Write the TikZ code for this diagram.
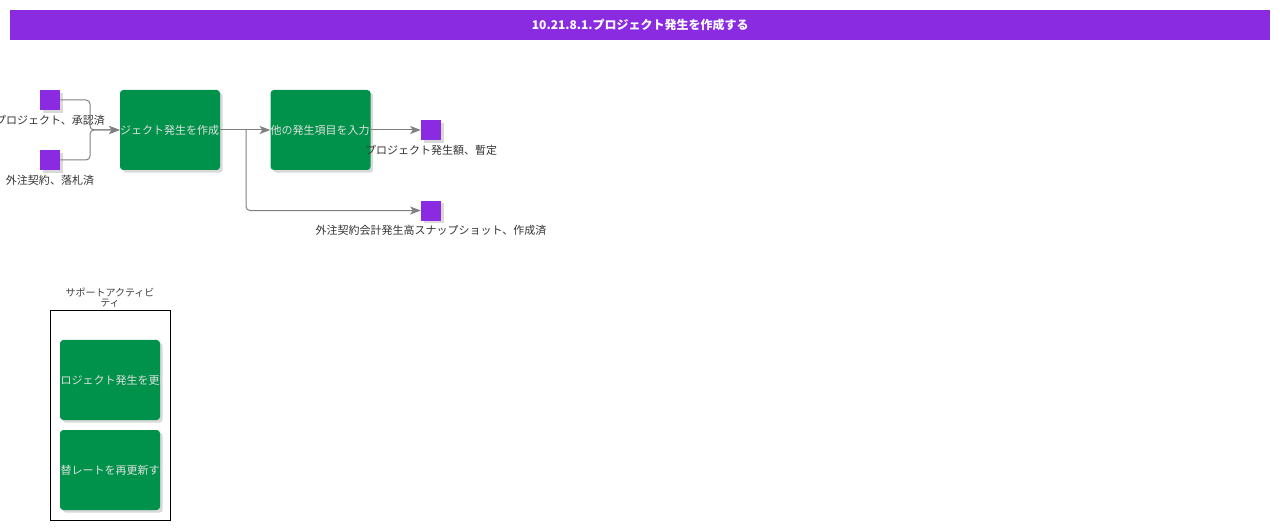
\documentclass[tikz,border=0pt]{standalone}
\usepackage{fontspec}
\setmainfont{Noto Sans CJK JP}
\usetikzlibrary{positioning, shadows, arrows.meta}

\definecolor{actpurple}{HTML}{8A2BE2}
\definecolor{actgreen}{HTML}{00924A}
\definecolor{linegray}{HTML}{808080}

\tikzset{
  act/.style={rounded corners=2.5pt, fill=actgreen, minimum width=75pt, minimum height=60pt, inner sep=0pt,
    drop shadow={shadow xshift=2pt, shadow yshift=-2pt, opacity=0.3}},
  acttext/.style={path picture={\node[font=\fontsize{8.25}{10}\selectfont, text=white!88!black] at (path picture bounding box.center) {#1};}},
  acttextr/.style={path picture={\node[font=\fontsize{8.25}{10}\selectfont, text=white!88!black, anchor=east, inner xsep=0.5pt] at (path picture bounding box.east) {#1};}},
  obj/.style={fill=actpurple, minimum size=15pt, inner sep=0pt,
    drop shadow={shadow xshift=2pt, shadow yshift=-2pt, opacity=0.3}},
  objlabel/.style={font=\fontsize{8.25}{10}\selectfont, text=black!80, inner sep=1pt},
  flow/.style={draw=linegray, line width=0.75pt, rounded corners=3pt,
    -{Stealth[length=8pt, width=6pt, inset=2pt, fill=linegray]}}
}

\begin{document}
\begin{tikzpicture}[x=0.75pt, y=-0.75pt]
\useasboundingbox (0,0) rectangle (1280,530);

\node[fill=actpurple, minimum width=945pt, minimum height=22.5pt, anchor=north west, text=white, font=\fontsize{9}{11}\selectfont\bfseries] (title) at (10,10) {10.21.8.1.プロジェクト発生を作成する};

\node[act, acttextr={プロジェクト発生を作成}] (create) at (170,130) {};
\node[act, acttextr={その他の発生項目を入力}, right=37.5pt of create] (enter) {};
\node[obj] (approved) at (50,100) {};
\node[obj] (awarded) at (50,160) {};
\node[obj, right=37.5pt of enter] (estimate) {};
\node[obj, below=45pt of estimate] (snapshot) {};

\node[objlabel, below=2.5pt of approved] {プロジェクト、承認済};
\node[objlabel, below=2.5pt of awarded] {外注契約、落札済};
\node[objlabel, below=2.5pt of estimate] {プロジェクト発生額、暫定};
\node[objlabel, below=2.5pt of snapshot] {外注契約会計発生高スナップショット、作成済};

\coordinate (join) at (90,130);
\coordinate (fork) at (246,130);

\draw[flow] (approved.east) -| (join) -- (create.west);
\draw[flow] (awarded.east) -| (join) -- (create.west);
\draw[flow] (create.east) -- (enter.west);
\draw[flow] (fork) |- (snapshot.west);
\draw[flow] (enter.east) -- (estimate.west);

% support activities
\node[draw, line width=0.6pt, minimum width=90pt, minimum height=157.5pt, inner sep=0pt] (support) at (110,415) {};
\node[font=\fontsize{7.5}{7.5}\selectfont, text=black!75, align=center, above=-1.5pt of support] {サポートアクティビ\\ティ};
\node[act, acttext={プロジェクト発生を更新}] (update) at (110,380) {};
\node[act, acttext={為替レートを再更新する}] (rates) at (110,470) {};

\end{tikzpicture}
\end{document}
